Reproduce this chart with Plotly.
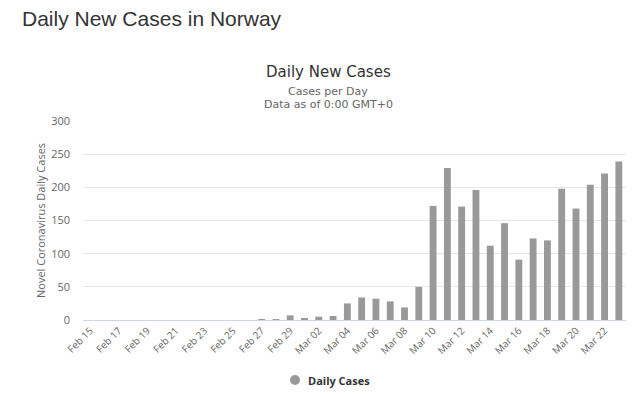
import plotly.graph_objects as go

dates = ["Feb 15", "Feb 16", "Feb 17", "Feb 18", "Feb 19", "Feb 20", "Feb 21", "Feb 22",
         "Feb 23", "Feb 24", "Feb 25", "Feb 26", "Feb 27", "Feb 28", "Feb 29",
         "Mar 01", "Mar 02", "Mar 03", "Mar 04", "Mar 05", "Mar 06", "Mar 07", "Mar 08",
         "Mar 09", "Mar 10", "Mar 11", "Mar 12", "Mar 13", "Mar 14", "Mar 15", "Mar 16",
         "Mar 17", "Mar 18", "Mar 19", "Mar 20", "Mar 21", "Mar 22", "Mar 23"]
daily_cases = [0, 0, 0, 0, 0, 0, 0, 0, 0, 0, 0, 0, 1, 1, 7,
               2, 5, 6, 25, 34, 32, 28, 19, 50, 172, 229, 171, 196, 112, 146, 91,
               123, 120, 198, 168, 204, 221, 239]
tick_labels = dates[::2]
y_ticks = [0, 50, 100, 150, 200, 250, 300]

# page body has an 8px margin; figure is placed at (8, 8) in the window
OFF = 8
W, H = 640 - OFF, 394 - OFF
L, R, T, B = 83 - OFF, 14, 121 - OFF, 74
pw, ph = W - L - R, H - T - B

def px(x):  # window x -> paper
    return (x - OFF - L) / pw

def py(y):  # window y -> paper
    return (H - B - (y - OFF)) / ph

bar_color = "#999999"

fig = go.Figure()
fig.add_trace(go.Bar(x=dates, y=daily_cases, marker=dict(color=bar_color, line=dict(width=0)),
                     showlegend=False, name="Daily Cases"))

fig.update_layout(
    width=W, height=H,
    margin=dict(l=L, r=R, t=T, b=B),
    paper_bgcolor="white", plot_bgcolor="white",
    bargap=0.52,
    showlegend=False,
    title=dict(text="Daily New Cases in Norway", x=(22 - OFF) / W, xref="container", xanchor="left",
               y=1 - (19 - OFF) / H, yref="container", yanchor="middle",
               font=dict(family="Liberation Sans, Arial", size=21, color="#333333")),
    xaxis=dict(type="category", categoryorder="array", categoryarray=dates,
               tickmode="array", tickvals=tick_labels, ticktext=tick_labels,
               tickangle=-45, tickfont=dict(family="Open Sans", size=10, color="#666666"),
               showgrid=False, showline=True, linecolor="#ccd6eb", linewidth=1,
               ticks="", range=[-0.5, len(dates) - 0.5], automargin=False),
    yaxis=dict(range=[0, 300], tickmode="array", tickvals=y_ticks,
               tickfont=dict(family="Open Sans", size=11, color="#666666"),
               gridcolor="#e6e6e6", gridwidth=1, zeroline=False, showline=False,
               ticklabelstandoff=12, automargin=False),
)

fig.add_annotation(text="Daily New Cases", xref="paper", yref="paper", x=px(328), y=py(72),
                   showarrow=False, xanchor="center", yanchor="middle",
                   font=dict(family="DejaVu Sans", size=15, color="#333333"))
fig.add_annotation(text="Cases per Day", xref="paper", yref="paper", x=px(328), y=py(91),
                   showarrow=False, xanchor="center", yanchor="middle",
                   font=dict(family="DejaVu Sans", size=11, color="#666666"))
fig.add_annotation(text="Data as of 0:00 GMT+0", xref="paper", yref="paper", x=px(328), y=py(104),
                   showarrow=False, xanchor="center", yanchor="middle",
                   font=dict(family="DejaVu Sans", size=11, color="#666666"))
fig.add_annotation(text="Novel Coronavirus Daily Cases", xref="paper", yref="paper",
                   x=px(40), y=py(221), textangle=-90, showarrow=False,
                   xanchor="center", yanchor="middle",
                   font=dict(family="Open Sans", size=11, color="#666666"))

# legend: circle symbol + bold label
fig.add_shape(type="circle", xref="paper", yref="paper",
              x0=px(290), x1=px(300), y0=py(375), y1=py(385),
              fillcolor=bar_color, line=dict(width=0))
fig.add_annotation(text="<b>Daily Cases</b>", xref="paper", yref="paper", x=px(306), y=py(380),
                   showarrow=False, xanchor="left", yanchor="middle",
                   font=dict(family="Open Sans", size=11, color="#333333"))

fig.write_html("out.html")
